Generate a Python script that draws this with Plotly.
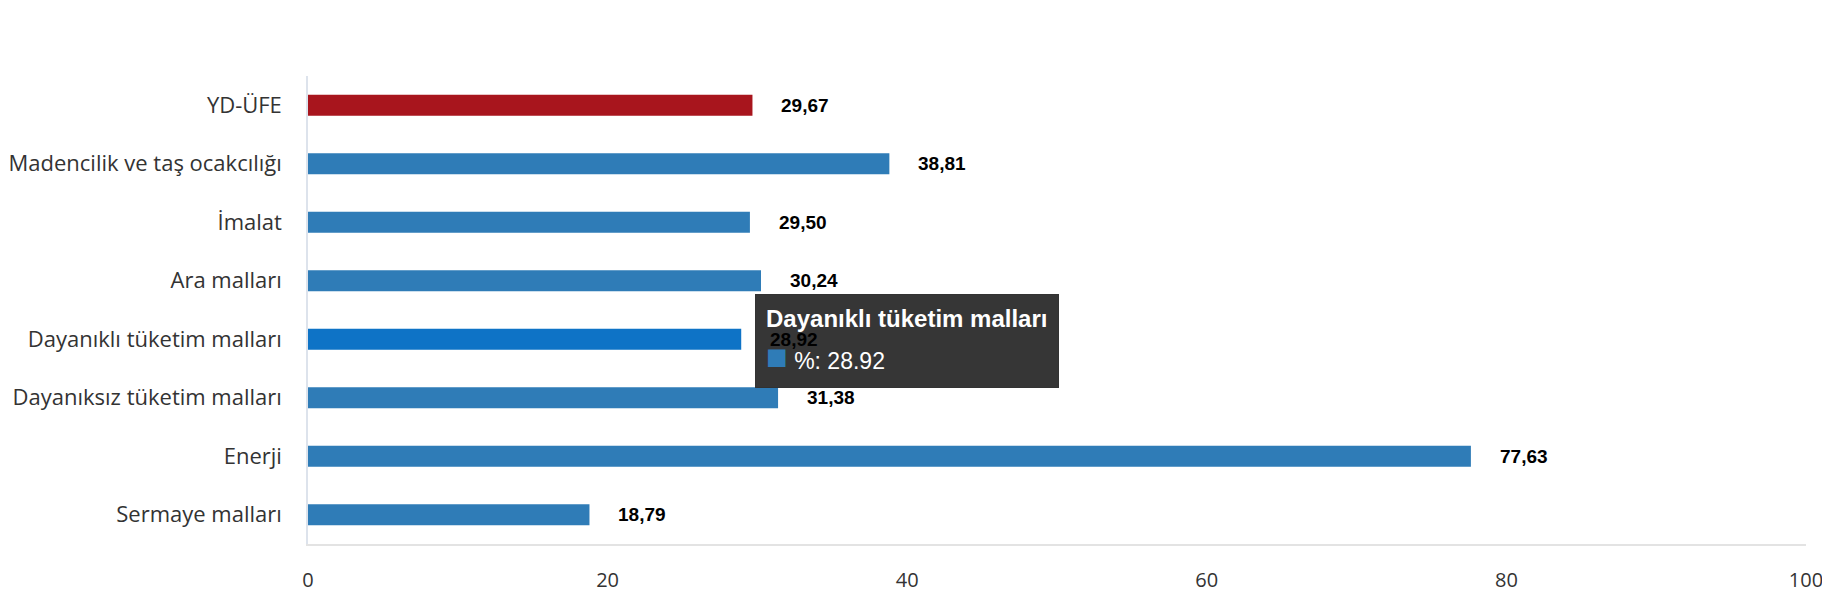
import plotly.graph_objects as go

# Veriler
kategoriler = ['YD-ÜFE', 'Madencilik ve taş ocakcılığı', 'İmalat', 'Ara malları',
               'Dayanıklı tüketim malları', 'Dayanıksız tüketim malları', 'Enerji', 'Sermaye malları']
degerler = [29.67, 38.81, 29.50, 30.24, 28.92, 31.38, 77.63, 18.79]
etiketler = ['29,67', '38,81', '29,50', '30,24', '28,92', '31,38', '77,63', '18,79']
x_ticks = [0, 20, 40, 60, 80, 100]

mavi = '#2f7cb7'
renkler = [mavi] * len(kategoriler)
renkler[0] = '#a8151d'
renkler[4] = '#0e73c6'  # tooltip acik olan bar

fig = go.Figure()
fig.add_trace(go.Bar(
    x=degerler, y=kategoriler, orientation='h',
    marker=dict(color=renkler, line=dict(width=0)),
    width=0.36, name='%',
    hoverinfo='skip'
))

anns = []
# tooltip (sabit)
i_tt = 4
anns.append(dict(
    x=degerler[i_tt], y=kategoriler[i_tt], xref='x', yref='y',
    xanchor='left', yanchor='middle', xshift=14, yshift=-2, showarrow=False, align='left',
    text="<span style='font-size:24px'><b>" + kategoriler[i_tt] + "</b></span><br>"
         + "<span style='color:" + mavi + "; font-size:36px'>■</span>"
         + "<span style='font-size:23px'>&nbsp;%: " + str(degerler[i_tt]) + "</span>",
    font=dict(family='Liberation Sans, Arial', size=32, color='white'),
    width=282, height=72, valign='middle',
    bgcolor='rgba(48,48,48,0.97)', bordercolor='rgba(48,48,48,0.97)', borderpad=10
))
# deger etiketleri
for k, v, e in zip(kategoriler, degerler, etiketler):
    anns.append(dict(x=v, y=k, xref='x', yref='y', text='<b>' + e + '</b>',
                     xanchor='left', yanchor='middle', xshift=27, showarrow=False,
                     font=dict(family='Liberation Sans, Arial', size=19, color='black')))

fig.update_layout(
    width=1830, height=600,
    margin=dict(l=300, r=32, t=68, b=64),
    plot_bgcolor='white', paper_bgcolor='white',
    showlegend=False,
    annotations=anns,
    xaxis=dict(range=[0, 100], tickvals=x_ticks, showgrid=False, zeroline=False,
               showline=True, linecolor='#e3e3e3', linewidth=2, automargin=False,
               tickfont=dict(family='Open Sans', size=20, color='#333333'),
               ticklabelstandoff=17),
    yaxis=dict(categoryorder='array', categoryarray=kategoriler, autorange='reversed',
               showgrid=False, zeroline=False, showline=True, linecolor='#dde3ec', linewidth=1.5,
               automargin=False,
               tickfont=dict(family='Open Sans', size=22, color='#333333'),
               ticklabelstandoff=20),
)

fig.write_html("out.html")
